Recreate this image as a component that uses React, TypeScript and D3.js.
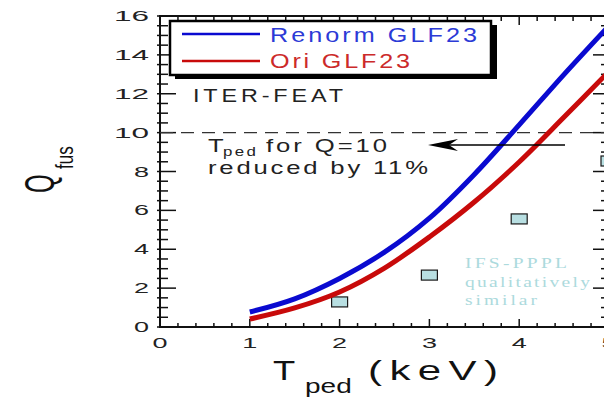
import { useMemo } from 'react';
import * as d3 from 'd3';

// pedestal temperature (keV) vs fusion gain
const tped = [1, 1.5, 2, 2.5, 3, 3.5, 4, 4.5, 5];
const renormQ = [0.77, 1.45, 2.5, 3.85, 5.6, 7.85, 10.4, 13.0, 15.5];
const oriQ = [0.41, 0.98, 1.8, 3.03, 4.63, 6.43, 8.49, 10.8, 13.15];

// IFS-PPPL points
const ifsT = [2, 3, 4, 5];
const ifsQ = [1.29, 2.67, 5.56, 8.54];

const xTickValues = [0, 1, 2, 3, 4, 5];
const yTickValues = [0, 2, 4, 6, 8, 10, 12, 14, 16];

const seriesNames = ['Renorm GLF23', 'Ori GLF23'];
const seriesColors = ['#0a0ad0', '#c80a0a'];
const legendTextColors = ['#2c3ad6', '#cc2a2a'];

const W = 604;
const H = 399;
const SANS = '"Liberation Sans", Arial, Helvetica, sans-serif';
const SERIF = '"Liberation Serif", "Times New Roman", serif';

// text squeezed/stretched horizontally like the old slide
const SText = ({ x, y, sx = 1, width, size, fill = '#222', family = SANS, children }: any) => (
  <text transform={`translate(${x},${y}) scale(${sx},1)`} fontFamily={family} fontSize={size} fill={fill}
    textLength={width ? width / sx : undefined} lengthAdjust={width ? 'spacing' : undefined}>
    {children}
  </text>
);

const App = () => {
  const x = useMemo(() => d3.scaleLinear().domain([0, 5]).range([160, 609]), []);
  const y = useMemo(() => d3.scaleLinear().domain([0, 16]).range([327, 16]), []);

  const line = d3.line<[number, number]>()
    .x(d => x(d[0]))
    .y(d => y(d[1]))
    .curve(d3.curveCatmullRom.alpha(0.5));

  const blue = tped.map((t, i) => [t, renormQ[i]] as [number, number]);
  const red = tped.map((t, i) => [t, oriQ[i]] as [number, number]);

  const xMinor = d3.range(0, 5.001, 0.2);
  const yMinor = d3.range(0, 16.001, 0.5);
  const [x0, x1] = x.range();
  const [y0, y1] = y.range();

  return (
    <svg width={W} height={H} style={{ position: 'absolute', left: 0, top: 0, background: '#fff' }}>
      <rect x={0} y={0} width={W} height={H} fill="#fff" />

      {/* frame */}
      <rect x={x0} y={y1} width={x1 - x0} height={y0 - y1} fill="none" stroke="#111" strokeWidth={2} />

      {/* x ticks, bottom and top */}
      {xMinor.map((v, i) => {
        const major = Math.abs(v - Math.round(v)) < 1e-6;
        const len = major ? 8 : 4;
        return (
          <g key={'xt' + i} stroke="#111" strokeWidth={1.5}>
            <line x1={x(v)} x2={x(v)} y1={y0} y2={y0 - len} />
            <line x1={x(v)} x2={x(v)} y1={y1} y2={y1 + len + 1} />
          </g>
        );
      })}

      {/* y ticks, left and right */}
      {yMinor.map((v, i) => {
        const major = Math.abs(v / 2 - Math.round(v / 2)) < 1e-6;
        const len = major ? 16 : 8;
        return (
          <g key={'yt' + i} stroke="#111" strokeWidth={1.5}>
            <line x1={x0 - 3} x2={x0 + len} y1={y(v)} y2={y(v)} />
            <line x1={x1} x2={x1 - len} y1={y(v)} y2={y(v)} />
          </g>
        );
      })}

      {/* tick labels */}
      {xTickValues.map(v => (
        <text key={'xl' + v} x={x(v)} y={348} textAnchor="middle" fontFamily={SANS} fontSize={15}
          fill="#222" textLength={15} lengthAdjust="spacingAndGlyphs">{v}</text>
      ))}
      {yTickValues.map(v => (
        <text key={'yl' + v} x={149} y={y(v) + 5} textAnchor="end" fontFamily={SANS} fontSize={15}
          fill="#222" textLength={String(v).length > 1 ? 35 : 15} lengthAdjust="spacingAndGlyphs">{v}</text>
      ))}

      {/* Q = 10 reference */}
      <line x1={x0} x2={x1} y1={y(10)} y2={y(10)} stroke="#333" strokeWidth={1.3} strokeDasharray="13 8" />

      {/* IFS-PPPL squares */}
      {ifsT.map((t, i) => (
        <rect key={'sq' + i} x={x(t) - 8} y={y(ifsQ[i]) - 5} width={16} height={10}
          fill="#b8dfe2" stroke="#1a1a1a" strokeWidth={1.2} />
      ))}

      {/* curves */}
      <path d={line(red) || ''} fill="none" stroke={seriesColors[1]} strokeWidth={5} />
      <path d={line(blue) || ''} fill="none" stroke={seriesColors[0]} strokeWidth={5} />

      {/* arrow */}
      <line x1={565} x2={440} y1={145} y2={145} stroke="#000" strokeWidth={1.5} />
      <path d="M428,145 L458,139 L449,145 L458,151 Z" fill="#000" />

      {/* annotation text */}
      <SText x={193} y={102} sx={1.3} width={150} size={18}>ITER-FEAT</SText>
      <SText x={208} y={152} sx={1.35} size={19}>T</SText>
      <SText x={223} y={156} sx={1.35} width={33} size={12.5}>ped</SText>
      <SText x={266} y={152} sx={1.35} width={121} size={19}>for Q=10</SText>
      <SText x={208} y={174} sx={1.35} width={220} size={19}>reduced by 11%</SText>

      <SText x={465} y={268} sx={1.3} width={102} size={15} family={SERIF} fill="#acdadd">IFS-PPPL</SText>
      <SText x={465} y={287} sx={1.3} width={125} size={15} family={SERIF} fill="#acdadd">qualitatively</SText>
      <SText x={465} y={305} sx={1.3} width={72} size={15} family={SERIF} fill="#acdadd">similar</SText>

      {/* legend */}
      <rect x={175} y={25} width={322} height={54} fill="#000" />
      <rect x={170} y={21} width={321} height={54} fill="#fff" stroke="#000" strokeWidth={2.5} />
      {seriesNames.map((name, i) => (
        <g key={name}>
          <line x1={182} x2={260} y1={34 + i * 27} y2={34 + i * 27} stroke={seriesColors[i]} strokeWidth={2.5} />
          <SText x={270} y={42 + i * 26} sx={1.2} width={i === 0 ? 207 : 140} size={21} fill={legendTextColors[i]}>{name}</SText>
        </g>
      ))}

      {/* axis titles */}
      <text transform="translate(54,193) rotate(-90) scale(1,1.8)" fontFamily={SANS} fontSize={24} fill="#111">Q</text>
      <text transform="translate(73,169) rotate(-90) scale(1,1.4)" fontFamily={SANS} fontSize={17} fill="#111">fus</text>

      <SText x={273} y={380} sx={1.3} size={28} fill="#111">T</SText>
      <SText x={305} y={393} sx={1.4} size={20} fill="#111">ped</SText>
      <SText x={368} y={380} sx={1.5} width={130} size={28} fill="#111">(keV)</SText>
    </svg>
  );
};

export default App;
